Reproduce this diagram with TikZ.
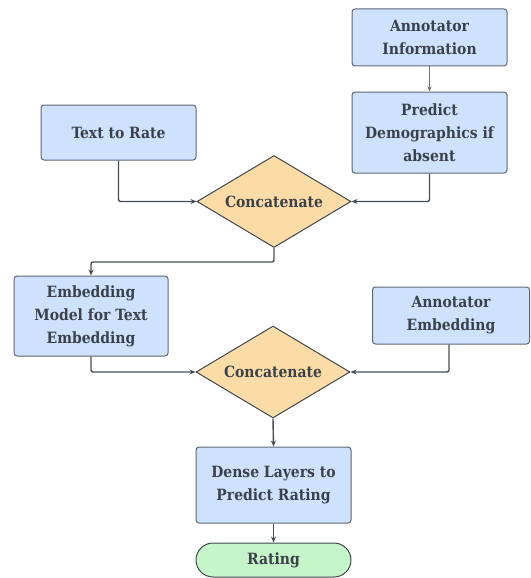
\documentclass[tikz,border=0pt]{standalone}
\usepackage{fontspec}
\setmainfont{DejaVu Serif Condensed}
\usetikzlibrary{shapes.geometric,arrows.meta}
\definecolor{boxfill}{HTML}{CFE2FD}
\definecolor{boxline}{HTML}{5F6673}
\definecolor{txt}{HTML}{3A414A}
\definecolor{dfill}{HTML}{FCDCA6}
\definecolor{dline}{HTML}{3F4650}
\definecolor{gfill}{HTML}{C5F5C8}
\definecolor{arr}{HTML}{474D57}
\tikzset{
  every node/.style={font=\bfseries\fontsize{15.5}{23}\selectfont, text=txt, align=center, inner sep=0pt},
  bluebox/.style={draw=boxline, fill=boxfill, line width=1pt, rounded corners=3pt, minimum width=155pt},
  decision/.style={diamond, draw=dline, fill=dfill, line width=1pt, minimum width=154pt, minimum height=92pt, aspect=1.67},
  terminal/.style={draw=dline, fill=gfill, line width=1pt, rounded corners=17pt, minimum width=155pt, minimum height=34pt},
  conn/.style={draw=arr, line width=1.4pt, -{Stealth[length=6pt,width=5pt]}, rounded corners=2pt},
  thinconn/.style={draw=arr!80, line width=0.8pt, -{Stealth[length=5pt,width=4pt]}}
}
\begin{document}
\begin{tikzpicture}[x=1pt,y=-1pt]
\useasboundingbox (0,0) rectangle (530,578);
\node[bluebox, minimum height=57pt] (ai) at (429.5,37.5) {Annotator\\Information};
\node[bluebox, minimum height=81pt] (pd) at (429.5,132.5) {Predict\\Demographics if\\absent};
\node[bluebox, minimum height=55pt] (tr) at (118.5,132.5) {Text to Rate};
\node[decision] (c1) at (274,201.5) {Concatenate};
\node[bluebox, minimum height=80pt, minimum width=154pt] (em) at (91,316) {Embedding\\Model for Text\\Embedding};
\node[bluebox, minimum height=57pt, minimum width=157pt] (ae) at (451,315.5) {Annotator\\Embedding};
\node[decision] (c2) at (273,372) {Concatenate};
\node[bluebox, minimum height=76pt] (dl) at (273.5,485) {Dense Layers to\\Predict Rating};
\node[terminal] (rt) at (273.5,560) {Rating};
\draw[thinconn] (ai) -- (pd);
\draw[conn] (tr.south) |- (c1.west);
\draw[conn] (pd.south) |- (c1.east);
\draw[conn] (c1.south) -- ++(0,14) -| (em.north);
\draw[conn] (em.south) |- (c2.west);
\draw[conn] ([xshift=-2pt]ae.south) |- (c2.east);
\draw[conn] (c2.south) -- (dl.north);
\draw[conn] (dl.south) -- (rt.north);
\end{tikzpicture}
\end{document}
